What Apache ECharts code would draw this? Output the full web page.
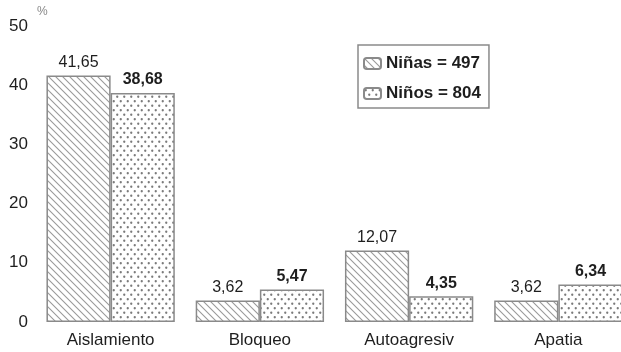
<!DOCTYPE html>
<html>
<head>
<meta charset="utf-8">
<script src="https://cdn.jsdelivr.net/npm/echarts@6/dist/echarts.min.js"></script>
<style>
  html, body { margin: 0; padding: 0; background: #fff; }
  #chart { width: 621px; height: 352px; }
</style>
</head>
<body>
<div id="chart"></div>
<script>
// Categories and percentages per group
const categories = ['Aislamiento', 'Bloqueo', 'Autoagresiv', 'Apatia'];
const ninas = [41.65, 3.62, 12.07, 3.62];
const ninos = [38.68, 5.47, 4.35, 6.34];
const seriesNames = ['Niñas = 497', 'Niños = 804'];
const yTicks = [0, 10, 20, 30, 40, 50];

// Diagonal hatch fill
function hatchPattern() {
  const s = 7;
  const c = document.createElement('canvas');
  c.width = s; c.height = s;
  const g = c.getContext('2d');
  g.fillStyle = '#fff';
  g.fillRect(0, 0, s, s);
  g.strokeStyle = '#9a9a9a';
  g.lineWidth = 1.1;
  g.beginPath();
  g.moveTo(-1, -1); g.lineTo(s + 1, s + 1);
  g.moveTo(-1, s - 1); g.lineTo(1, s + 1);
  g.moveTo(s - 1, -1); g.lineTo(s + 1, 1);
  g.stroke();
  return c;
}

// Staggered dot fill
function dotPattern() {
  const w = 7, h = 9;
  const c = document.createElement('canvas');
  c.width = w; c.height = h;
  const g = c.getContext('2d');
  g.fillStyle = '#fff';
  g.fillRect(0, 0, w, h);
  g.fillStyle = '#7a7a7a';
  [[1.75, 2.25], [5.25, 6.75]].forEach(([x, y]) => {
    g.beginPath();
    g.arc(x, y, 1.15, 0, Math.PI * 2);
    g.fill();
  });
  return c;
}

const fmt = v => v.toFixed(2).replace('.', ',');
const font = '"Liberation Sans", Arial, Helvetica, sans-serif';
const ink = '#1e1e1e';

const chart = echarts.init(document.getElementById('chart'), null, { renderer: 'canvas' });

chart.setOption({
  animation: false,
  backgroundColor: '#fff',
  // the last group runs up to the right edge of the canvas
  grid: { left: 36, width: 597, top: 26, bottom: 30, containLabel: false, outerBoundsMode: 'none' },
  legend: {
    orient: 'vertical',
    left: 358,
    top: 45,
    padding: [10, 8, 6, 5],
    itemWidth: 17,
    itemHeight: 11,
    itemGap: 13,
    borderColor: '#8a8a8a',
    borderWidth: 1.5,
    textStyle: { fontFamily: font, fontSize: 17, fontWeight: 'bold', color: ink },
    data: seriesNames
  },
  graphic: [{
    type: 'text',
    left: 37,
    top: 6,
    style: { text: '%', fontFamily: font, fontSize: 12, fill: '#888' }
  }],
  xAxis: {
    type: 'category',
    data: categories,
    axisLine: { show: false },
    axisTick: { show: false },
    axisLabel: { fontFamily: font, fontSize: 17, color: ink, margin: 10 }
  },
  yAxis: {
    type: 'value',
    min: yTicks[0],
    max: yTicks[yTicks.length - 1],
    interval: 10,
    axisLine: { show: false },
    axisTick: { show: false },
    splitLine: { show: false },
    axisLabel: { fontFamily: font, fontSize: 17, color: ink, margin: 8, padding: [3, 0, 0, 0] }
  },
  series: [
    {
      name: seriesNames[0],
      type: 'bar',
      data: ninas,
      barGap: '0%',
      barCategoryGap: '14%',
      itemStyle: {
        color: { image: hatchPattern(), repeat: 'repeat' },
        borderColor: '#8a8a8a',
        borderWidth: 1.5
      },
      label: {
        show: true,
        position: 'top',
        distance: 5,
        formatter: p => fmt(p.value),
        fontFamily: font,
        fontSize: 16,
        color: ink
      }
    },
    {
      name: seriesNames[1],
      type: 'bar',
      data: ninos,
      itemStyle: {
        color: { image: dotPattern(), repeat: 'repeat' },
        borderColor: '#8a8a8a',
        borderWidth: 1.5
      },
      label: {
        show: true,
        position: 'top',
        distance: 5,
        formatter: p => fmt(p.value),
        fontFamily: font,
        fontSize: 16,
        fontWeight: 'bold',
        color: ink
      }
    }
  ]
});
</script>
</body>
</html>
